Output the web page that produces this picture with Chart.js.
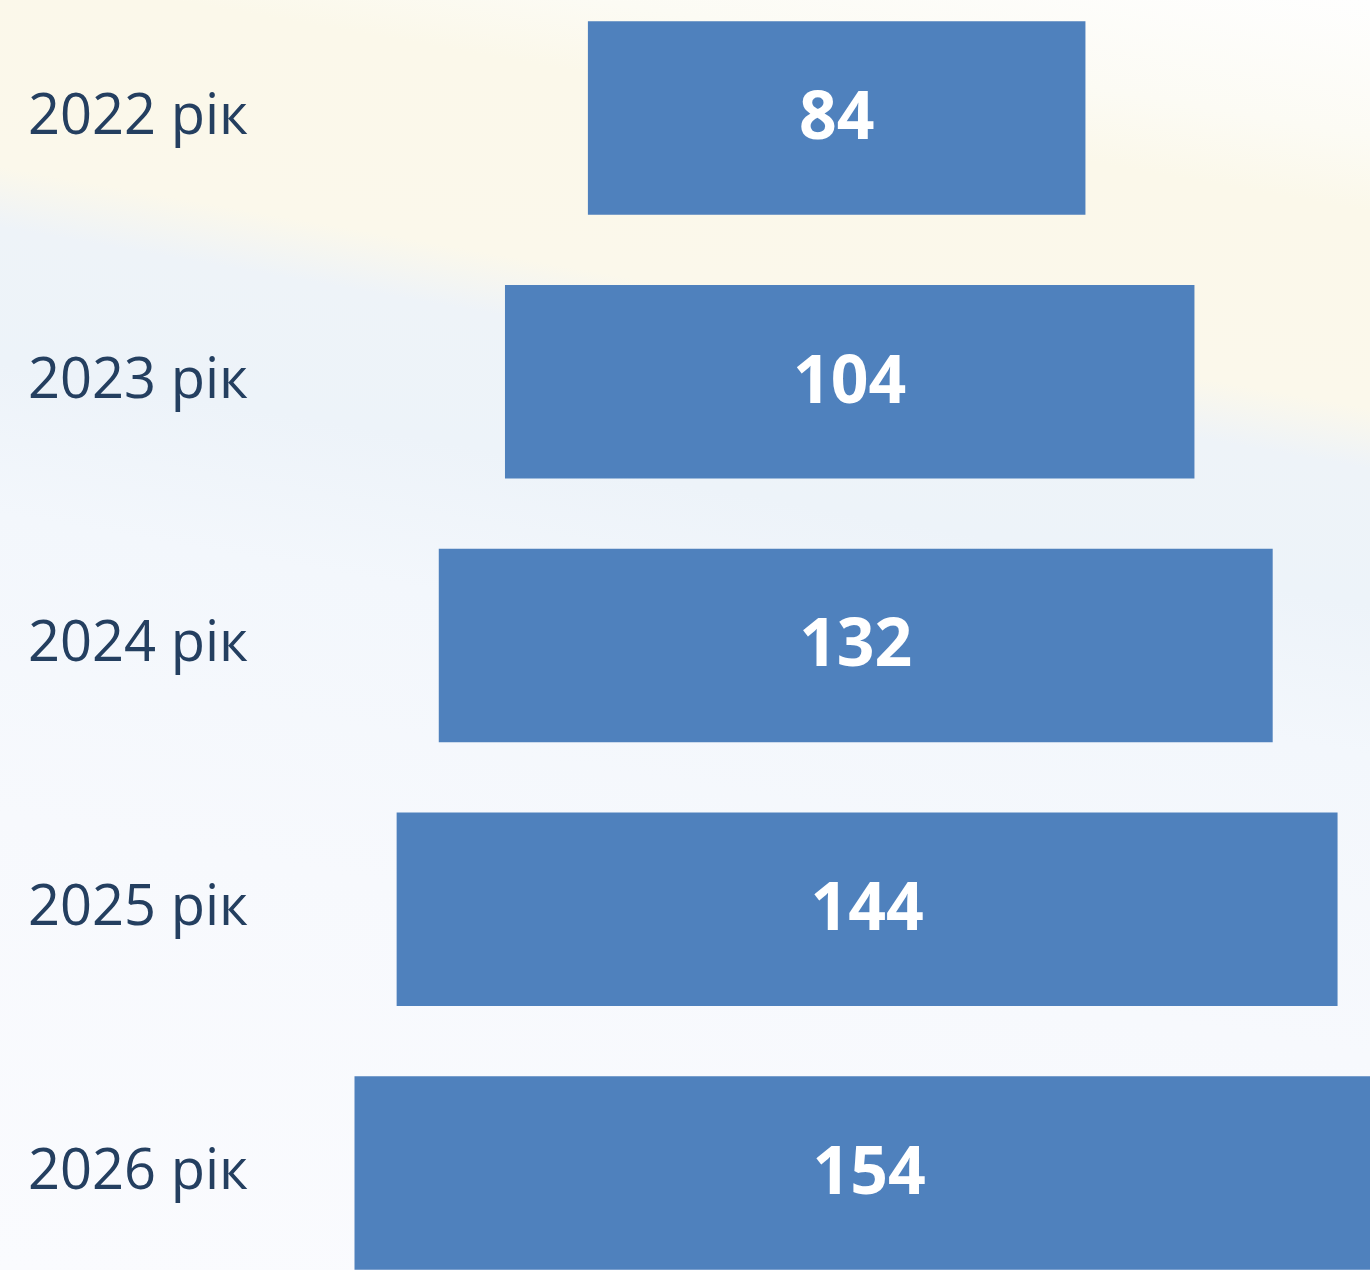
<!DOCTYPE html>
<html>
<head>
<meta charset="utf-8">
<script src="https://cdn.jsdelivr.net/npm/chart.js@4/dist/chart.umd.min.js"></script>
<style>
  html, body { margin: 0; padding: 0; }
  body {
    width: 1370px; height: 1270px; overflow: hidden;
    background: linear-gradient(190deg,
      #fefefe 0%, #fcfbf4 9%, #fbf8ea 14%, #fbf8eb 27%,
      #eef3f8 31%, #edf3f9 40%, #f3f7fc 50%, #f7f9fd 70%, #fafbfe 100%);
  }
  #wrap { position: relative; width: 1370px; height: 1270px; }
</style>
</head>
<body>
<div id="wrap"><canvas id="c"></canvas></div>
<script>
const categories = ["2022 рік", "2023 рік", "2024 рік", "2025 рік", "2026 рік"];
const values = [84, 104, 132, 144, 154];
// horizontal extent of each bar (axis units)
const barStart = [43.1, 30.7, 20.8, 14.5, 8.2];
const barEnd = [117.4, 133.7, 145.4, 155.1, 162.0];

const valueLabels = {
  id: 'valueLabels',
  afterDatasetsDraw(chart) {
    const ctx = chart.ctx;
    const meta = chart.getDatasetMeta(0);
    ctx.save();
    ctx.fillStyle = '#ffffff';
    ctx.font = 'bold 66px "Open Sans"';
    ctx.textAlign = 'center';
    ctx.textBaseline = 'middle';
    meta.data.forEach((bar, i) => {
      const p = bar.getProps(['x', 'y', 'base'], true);
      ctx.fillText(String(values[i]), (p.x + p.base) / 2, p.y + 2);
    });
    ctx.restore();
  }
};

new Chart(document.getElementById('c'), {
  type: 'bar',
  data: {
    labels: categories,
    datasets: [{
      data: categories.map((_, i) => [barStart[i], barEnd[i]]),
      backgroundColor: '#4F81BD',
      borderWidth: 0,
      barThickness: 193,
      clip: false
    }]
  },
  options: {
    indexAxis: 'y',
    responsive: true,
    maintainAspectRatio: false,
    animation: false,
    layout: { padding: { left: 28, right: 0, top: 118, bottom: 97 } },
    plugins: { legend: { display: false }, tooltip: { enabled: false } },
    scales: {
      x: { display: false, min: 0, max: 160 },
      y: {
        offset: false,
        grid: { display: false },
        border: { display: false },
        ticks: {
          autoSkip: false,
          crossAlign: 'far',
          color: '#243F60',
          font: { family: '"Open Sans"', size: 56 },
          padding: 0
        },
        afterFit(scale) { scale.width = 272; }
      }
    }
  },
  plugins: [valueLabels]
});
</script>
</body>
</html>
